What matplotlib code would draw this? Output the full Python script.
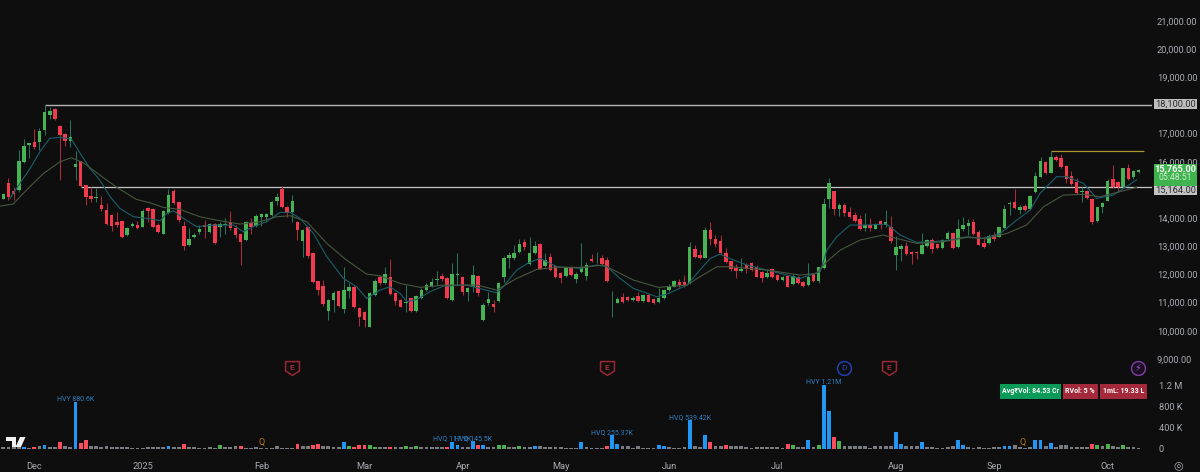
import matplotlib
matplotlib.use('Agg')
import matplotlib.pyplot as plt
from matplotlib.patches import Rectangle, Polygon
from matplotlib.ticker import FuncFormatter
from matplotlib.transforms import ScaledTranslation

plt.rcParams['font.family'] = ['Roboto', 'DejaVu Sans']

# daily candles
opens = [14761,15318,15022,15069,16075,16679,16774,16786,17200,17745,
         17934,17342,17058,16798,15886,16087,15235,14856,14785,14524,
         14347,14181,13921,13980,13471,13778,13826,13755,14430,14406,
         13838,13518,14240,15045,14655,13802,13104,13400,13577,13838,
         13577,13861,13743,13814,13921,13707,13506,13293,13909,13790,
         14122,14122,14181,14690,15093,14477,14288,13944,13269,13743,
         12843,11825,11659,10783,11162,11482,10830,11482,11635,10878,
         10736,10214,11328,11967,11754,11991,11422,
         11163,11069,11223,10773,11223,11519,11661,11862,12028,11945,
         11163,12040,11980,11448,11613,12028,10453,11045,11021,11128,
         11969,12643,12643,12857,13224,12430,12845,13153,12371,12679,
         12371,12134,12016,12347,11921,12170,12016,12632,12537,12643,
         12584,11045,11057,11258,11258,11163,11317,11128,11353,11187,
         11092,11223,11507,11637,11815,11815,11755,12987,12762,12667,
         13650,13318,13259,12845,12537,12312,12205,12395,12489,12347,
         12170,11969,12253,12040,11862,12016,11732,11992,
         11814,11695,12074,11849,12287,14738,15022,14383,14525,14300,
         14170,14028,13720,13827,13696,13957,13838,13767,12749,12962,
         13093,12868,12868,12808,13093,13306,13152,13010,13341,13531,
         13033,13673,13791,13933,13590,13175,13175,13483,13412,13732,
         14573,14632,14359,14501,14383,14987,15543,16064,15685,16254,
         16195,15910,15567,15366,14999,15022,14738,13957,14478,14691,
         15460,15366,15165,15839,15520,15720]
highs = [14951,15483,15187,16490,16869,16750,17236,17259,18100,18005,
         17970,17378,17082,17555,16454,16111,15247,15187,15128,14856,
         14619,14205,14299,14003,13767,13944,13980,14382,14453,14441,
         13885,14359,15116,15116,14678,13980,13707,13553,13826,14003,
         13909,13909,13944,14063,14335,13826,13530,13956,14063,14205,
         14264,14240,14690,14951,15211,14512,14891,13980,13695,13767,
         12867,11848,11872,11186,11470,11505,12346,11777,11659,10901,
         10783,11458,11896,12038,12346,12606,11458,
         11187,11696,11246,11341,11578,11755,11933,12193,12134,11992,
         12490,12821,12004,11613,12407,12051,11045,11459,11163,11803,
         12726,12880,13117,13318,13330,13413,13271,13200,12821,12821,
         12407,12170,12371,12383,12170,13200,12525,12797,12880,12762,
         12703,11483,11258,11400,11305,11305,11436,11353,11377,11211,
         11602,11542,11720,11874,11897,12051,13235,13117,12939,13768,
         13946,13472,13472,12999,12560,12442,12643,12466,12525,12407,
         12205,12229,12288,12075,12016,12040,12087,12016,
         11849,12465,12098,12347,14774,15508,15046,14620,14620,14478,
         14300,14182,14241,14063,13909,14004,14359,14146,13436,13152,
         13235,12891,12915,13531,13317,13353,13199,13317,13613,13578,
         14028,14099,14028,14028,13649,13389,13507,13590,13767,14525,
         14691,15093,14537,14561,14892,15721,16230,16112,16467,16313,
         16349,15946,15733,15484,15165,15070,14774,14478,14644,15449,
         15958,15401,15863,15993,15780,15804]
lows = [14737,14714,14714,15010,16016,16194,16513,16490,17023,17579,
        17555,15424,16632,16608,15424,15187,14536,14655,14655,14335,
        13826,13625,13767,13376,13447,13743,13672,13743,13944,13719,
        13530,13506,14216,14572,13944,12938,13080,13352,13506,13352,
        13530,13151,13411,13506,13648,13352,12393,13269,13494,13767,
        13790,13944,14157,14536,14418,14122,13944,13293,12701,12642,
        11754,11339,10949,10451,10747,10925,10712,11221,10866,10238,
        10191,10191,11304,11695,11730,11339,10984,
        10903,10749,10749,10749,11187,11495,11613,11696,11850,11211,
        11140,11696,11341,11140,11459,11305,10429,10986,10749,11104,
        11815,12288,12584,12821,12939,12407,12797,12253,12324,12205,
        11933,11755,11992,12016,11779,12134,11874,12525,12466,12407,
        11815,10571,11045,11069,11140,11140,11104,11104,11092,11021,
        11069,11211,11483,11613,11613,11637,11732,12667,12632,12643,
        13117,13058,12797,12489,12205,11957,12170,12111,12205,11969,
        11815,11933,11945,11838,11838,11613,11696,11732,
        11636,11672,11814,11778,12252,14419,14182,14146,14146,14063,
        13945,13649,13625,13613,13673,13696,13767,13175,12228,12560,
        12773,12441,12607,12785,13057,12844,12962,12986,13294,12962,
        13010,13625,13471,13471,13104,13010,13152,13270,13389,13708,
        14182,14383,14205,14336,14359,14951,15520,15638,15662,16112,
        15839,15330,15236,14928,14655,14738,13862,13933,14265,14667,
        15129,15011,15129,15425,15449,15662]
closes = [14915,14832,14927,16099,16632,16750,16608,17177,17828,17863,
          17579,17023,16798,16963,16004,15223,14820,14749,14809,14394,
          13861,13790,13826,13400,13719,13849,13707,14335,14311,13743,
          13565,14323,14903,14595,14003,13080,13328,13459,13672,13767,
          13849,13175,13861,13849,13731,13471,13210,13932,13743,14157,
          14216,14216,14655,14832,14453,14240,14678,13648,13648,12736,
          11813,11505,11008,11162,11422,10960,11517,11612,10901,10570,
          10451,11422,11848,11754,12085,11375,11114,
          10927,11092,10773,11317,11519,11696,11803,11897,11897,11234,
          12075,12075,11459,11590,12051,11400,10986,11187,10927,11755,
          12667,12762,12821,13153,13034,12821,13082,12276,12584,12229,
          11969,11933,12347,12040,12099,12324,12418,12560,12560,12442,
          11838,11069,11211,11092,11163,11234,11116,11329,11104,11045,
          11223,11519,11672,11850,11684,11684,13034,12703,12655,13650,
          13330,13153,12821,12525,12253,12193,12253,12276,12229,11992,
          11933,12134,11969,11862,11992,11637,12016,11755,
          11660,11991,11849,12323,14573,15307,14383,14525,14241,14123,
          13969,13673,13827,13720,13874,13838,13933,13258,13033,13093,
          12797,12797,12820,13104,13294,12962,12998,13294,13531,13010,
          13696,13815,13909,13507,13128,13033,13448,13341,13744,14395,
          14620,14442,14478,14359,14845,15579,16088,15662,16242,16135,
          15875,15449,15283,14951,15046,14774,13945,14454,14620,15401,
          15188,15165,15839,15460,15745,15765]

# moving averages, read at a handful of spots
fast_x = [1.3,3,5.2,7.1,9,11,13.2,14.9,16.8,18.7,20.7,22.6,25.2,27.8,30.4,31.7,33,34.9,37.5,40.7,44.6,46.5,
          48.4,51,53.6,55.6,57.5,60.1,62.7,65.9,68.5,70.4,73,74.9,76.9,78.2,80.1,82.7,85.3,89.8,93,95.6,96.9,
          99.5,101.8,104,107.3,111.8,115,117,119.5,122.1,126.6,128.6,132.5,135,137,138.9,140.2,144.1,148,154.4,
          156.3,158.3,159.6,161.5,164.1,167.3,171.2,173.8,177,180.2,183.5,186.7,189.9,193.2,196.4,199,200.9,
          204.1,206.1,209.3,211.9,215.1,219.6]
fast_ma = [14773,15247,15839,16431,16904,16940,16880,16371,15839,15424,14832,14418,14122,14063,13980,14240,14335,
           14063,13767,13826,13826,13589,13767,13944,14276,14276,14063,13530,12701,11931,11635,11221,11517,11635,
           11399,11104,11187,11459,11661,11696,11542,11424,11637,12229,12490,12643,12347,12288,12407,12347,11933,
           11578,11282,11377,11696,12229,12643,12797,12679,12407,12229,11933,12050,12169,12939,13412,13827,13827,
           13862,13471,13211,13235,13294,13412,13353,13531,14004,14359,14951,15543,15543,15307,14774,14892,15425]
slow_x = [-0.6,1.9,4.5,7.8,11,13.2,15.5,18.7,22,25.8,28.4,31,34.2,38.1,41.3,45.9,49.7,53,55.6,58.8,62.7,66.5,70.4,
          73,76.9,80.8,85.3,91.8,95.6,99.5,103.4,107.3,111.8,116.3,122.1,127,132.5,135,138.3,140.9,148,154.4,
          157.6,159.2,162.2,166,170.5,173.1,177,182.2,186.7,190.6,194.5,198.3,201.6,205.4,209.3,212.5,216.4,219.6]
slow_ma = [14501,14572,15069,15661,16075,16217,16040,15602,15164,14737,14619,14453,14382,14122,14003,13861,13944,
           14122,14157,13944,13175,12583,12085,12026,11754,11613,11696,11696,11519,11933,12253,12324,12324,12407,
           11874,11613,11696,11992,12347,12347,12229,12051,12110,12465,12939,13294,13471,13353,13175,13235,13389,
           13353,13531,13827,14478,14892,14916,14833,15011,15165]

# volume in thousands
volumes = [20,20,20,20,30,10,35,40,75,25,
           20,125,40,30,880.6,100,160,50,50,25,
           50,25,25,20,20,15,15,15,20,20,
           20,20,55,20,25,85,20,35,15,15,
           20,15,65,35,35,45,45,15,15,20,
           15,15,10,50,15,15,15,95,50,50,
           70,85,50,50,25,25,125,40,35,65,
           65,65,35,20,20,35,35,20,50,25,
           40,25,20,20,20,20,35,125,75,35,
           25,140,60,60,20,30,65,65,30,25,
           50,25,20,50,50,20,20,20,20,15,
           15,15,115,35,15,15,15,50,255.37,90,
           40,40,15,40,15,15,15,75,50,25,
           15,15,20,539.42,50,20,255,115,50,50,
           60,45,50,50,25,15,20,35,25,20,
           20,15,90,60,20,35,160,20,65,1210,
           720,210,140,50,50,55,40,40,15,45,
           40,50,55,320,80,40,40,40,130,20,
           20,15,15,20,50,170,60,20,15,20,
           15,15,20,20,50,50,60,30,15,20,
           170,160,45,100,20,75,60,20,20,20,
           20,85,70,50,80,55,20,65,25,25,10]
blue_bars = [4,8,14,32,66,87,88,91,93,103,112,118,119,127,128,133,136,156,159,160,173,174,178,185,186,194,195,200,201,203]
red_bars = [6,11,15,16,35,46,57,60,61,68,69,70,75,86,92,117,137,140,152,161,211]
green_bars = [42,67,71,72,78,80,96,97,100,153,158,162,212,214,217]

hv_labels = {14: 'HVY 880.6K', 87: 'HVQ 117.9K', 91: 'HVQ 145.5K', 118: 'HVQ 255.37K',
             133: 'HVQ 539.42K', 159: 'HVY 1.21M'}

month_pos = [6,27,50,70,89,108,129,150,173,192,214]
month_labels = ['Dec','2025','Feb','Mar','Apr','May','Jun','Jul','Aug','Sep','Oct']
price_ticks = [9000,10000,11000,12000,13000,14000,16000,17000,19000,20000,21000]
vol_ticks = [0,400,800,1200]
vol_tick_labels = ['0','400 K','800 K','1.2 M']

resistance = 18100
support = 15164
recent_high = 16450
last_price = 15765
earnings_idx = [56,117,171.6]
earnings_q_idx = [50,197.5]

BG = '#0e0e0e'
GREEN = '#47b354'
RED = '#f23a4f'
AXIS_TXT = '#a8abb2'
W, H = 1200, 472

fig = plt.figure(figsize=(12, 4.72), dpi=100, facecolor=BG)
ax = fig.add_axes([0, (H-376)/H, 1152/W, 376/H], facecolor=BG)
vax = fig.add_axes([0, (H-448.5)/H, 1152/W, 72.5/H], facecolor=BG, sharex=ax)

n = len(opens)
xs = list(range(n))
up = [c >= o for o, c in zip(opens, closes)]
body_col = [GREEN if u else RED for u in up]
wick_col = ['#25785c' if u else '#b52c3e' for u in up]

ax.vlines(xs, lows, highs, colors=wick_col, lw=0.7, zorder=3)
ax.bar(xs, [abs(c-o) for o, c in zip(opens, closes)], bottom=[min(o, c) for o, c in zip(opens, closes)],
       width=0.68, color=body_col, linewidth=0, zorder=4)
ax.plot(fast_x, fast_ma, color='#1a5f6b', lw=0.8, zorder=5)
ax.plot(slow_x, slow_ma, color='#46573e', lw=0.8, zorder=5)

ax.set_xlim(-0.64, 222.6)
ax.set_ylim(8468, 21816)

# horizontal levels
ax.hlines(resistance, 8, 222.6, color='#b4b4b4', lw=1.0, zorder=2)
ax.hlines(support, 15, 222.6, color='#000000', lw=2.2, zorder=2)
ax.hlines(support, 15, 222.6, color='#c4c4c4', lw=1.0, zorder=2)
ax.hlines(recent_high, 203, 221, color='#a8962e', lw=0.9, zorder=2)

# right price scale
ax.yaxis.tick_right()
ax.set_yticks(price_ticks)
ax.yaxis.set_major_formatter(FuncFormatter(lambda v, p: f'{v:,.2f}'))
ax.tick_params(axis='y', length=0, labelcolor=AXIS_TXT, labelsize=6.7, pad=3.5)
ax.tick_params(axis='x', length=0, labelbottom=False)
up_shift = ScaledTranslation(0, 2/100, fig.dpi_scale_trans)
for lab in ax.get_yticklabels():
    lab.set_transform(lab.get_transform() + up_shift)
for s in ax.spines.values():
    s.set_visible(False)
ax.spines['bottom'].set_visible(True)
ax.spines['bottom'].set_color('#2b2624')
ax.spines['bottom'].set_linewidth(0.8)

# boxes on the price scale
blend = ax.get_yaxis_transform()
def price_box(y0, y1, col):
    ax.add_patch(Rectangle((1.0015, y0), 0.0375, y1-y0, transform=blend, facecolor=col, edgecolor='none',
                           clip_on=False, zorder=6))
price_box(17929, 18301, '#bdbdbd')
ax.text(1.0205, 18113, '18,100.00', transform=blend, color='#2c2c2c', fontsize=6.7, ha='center', va='center', zorder=7)
price_box(14893, 15213, '#c4c4c4')
ax.text(1.0205, 15060, '15,164.00', transform=blend, color='#2c2c2c', fontsize=6.7, ha='center', va='center', zorder=7)
price_box(15213, 15994, '#3fb34d')
ax.text(1.0205, 15816, f'{last_price:,.2f}', transform=blend, color='white', fontsize=6.7, fontweight='bold',
        ha='center', va='center', zorder=7)
ax.text(1.0205, 15497, '05:48:51', transform=blend, color='#cdeccf', fontsize=6.2, ha='center', va='center', zorder=7)

# event icons along the bottom of the price pane
icon_y = 8752
shield = [(-1, 1), (1, 1), (1, -0.35), (0, -1), (-1, -0.35), (-1, 1)]
for i in earnings_idx:
    ax.plot([i], [icon_y], marker=shield, ms=10, mfc='none', mec='#9a2733', mew=1.1, clip_on=False, zorder=6)
    ax.text(i, icon_y+20, 'E', color='#a82c3a', fontsize=6, fontweight='bold', ha='center', va='center', zorder=6)
ax.plot([163], [icon_y], marker='o', ms=10, mfc='none', mec='#2040b0', mew=1.1, zorder=6)
ax.text(163, icon_y, 'D', color='#2a48b8', fontsize=6, ha='center', va='center', zorder=6)
ax.plot([219.9], [icon_y], marker='o', ms=10, mfc='#1a1020', mec='#7a3c9e', mew=1.1, zorder=6)
ax.text(219.9, icon_y, '\u26a1', color='#a050cc', fontsize=7, ha='center', va='center', zorder=6)

# volume pane
vol_col = []
for i in xs:
    if i in blue_bars:
        vol_col.append('#2196f3')
    elif i in red_bars:
        vol_col.append('#fb4d5c')
    elif i in green_bars:
        vol_col.append('#4caf50')
    else:
        vol_col.append('#787b80')
vax.bar(xs, volumes, width=0.74, color=vol_col, linewidth=0, zorder=3)
vax.set_ylim(0, 1383)
for i, txt in hv_labels.items():
    vax.annotate(txt, (i, volumes[i]), xytext=(0, -0.5), textcoords='offset points', color='#2f7fc1', fontsize=5,
                 ha='center', va='bottom', zorder=5, annotation_clip=False)
for i in earnings_q_idx:
    vax.text(i, 25, 'Q', color='#b9791c', fontsize=6.5, ha='center', va='bottom', zorder=5)

vax.yaxis.tick_right()
vax.set_yticks(vol_ticks)
vax.set_yticklabels(vol_tick_labels)
vax.tick_params(axis='y', length=0, labelcolor=AXIS_TXT, labelsize=6.7, pad=5)
vax.set_xticks(month_pos)
vax.set_xticklabels(month_labels)
vax.tick_params(axis='x', length=0, labelcolor=AXIS_TXT, labelsize=6.7, pad=10)
for s in vax.spines.values():
    s.set_visible(False)

# badges, logo, settings icon sit in figure pixels
def px_rect(x0, y0, x1, y1, col):
    fig.add_artist(Rectangle((x0/W, 1-y1/H), (x1-x0)/W, (y1-y0)/H, transform=fig.transFigure,
                             facecolor=col, edgecolor='none', zorder=6))
def px_text(x, y, s, **kw):
    fig.text(x/W, 1-y/H, s, ha='center', va='center', zorder=7, **kw)

px_rect(1000, 383.5, 1060.7, 398.5, '#0b9a58')
px_text(1030.3, 391, 'Avg\u20b9Vol: 84.53 Cr', color='white', fontsize=5, fontweight='bold')
px_rect(1062.7, 383.5, 1098, 398.5, '#a3293b')
px_text(1080.3, 391, 'RVol: 5 %', color='white', fontsize=5, fontweight='bold')
px_rect(1100, 383.5, 1147, 398.5, '#a3293b')
px_text(1123.5, 391, '1mL: 19.33 L', color='white', fontsize=5, fontweight='bold')

for pts in ([(6, 437), (15.5, 437), (15.5, 447), (11.5, 447), (11.5, 441), (6, 441)],
            [(20, 437), (25.5, 437), (21, 447), (15.5, 447)]):
    fig.add_artist(Polygon([(x/W, 1-y/H) for x, y in pts], transform=fig.transFigure, facecolor='#f0f0f0',
                           edgecolor='none', zorder=6))
px_text(1178, 465, '\u25ce', color=AXIS_TXT, fontsize=8, family='DejaVu Sans')

fig.savefig('out.png', dpi=100, facecolor=BG)
